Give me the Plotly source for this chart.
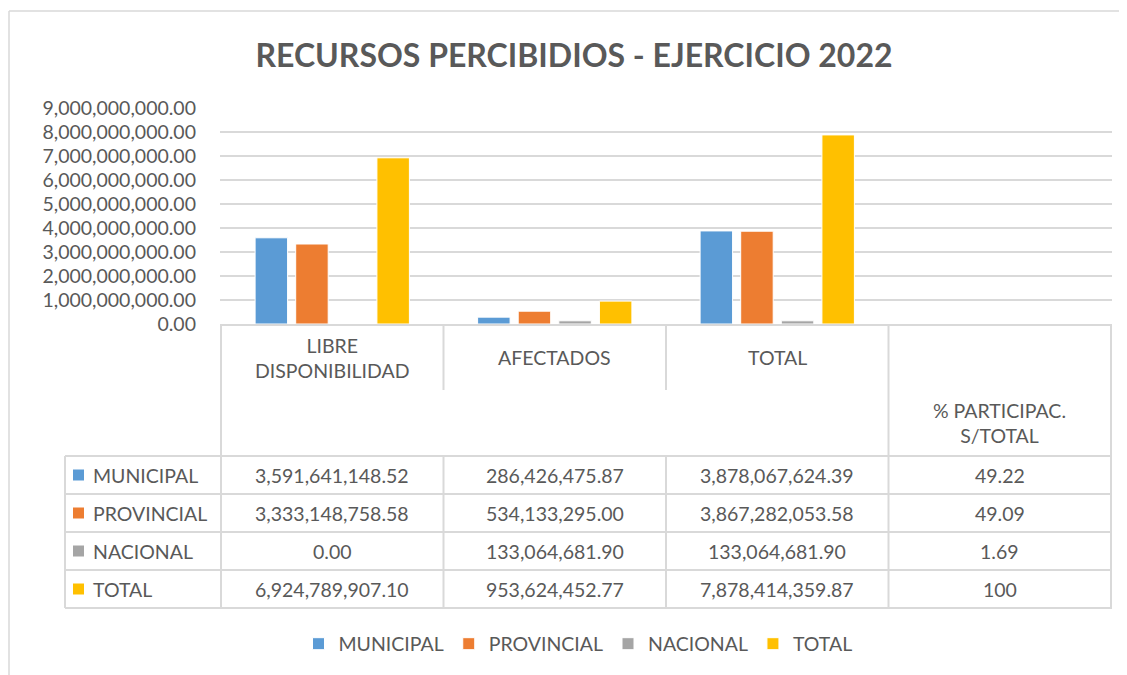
import plotly.graph_objects as go

# ---- data ----
categories = ["LIBRE DISPONIBILIDAD", "AFECTADOS", "TOTAL", "% PARTICIPAC. S/TOTAL"]
header_labels = ["LIBRE<br>DISPONIBILIDAD", "AFECTADOS", "TOTAL", "% PARTICIPAC.<br>S/TOTAL"]
series_names = ["MUNICIPAL", "PROVINCIAL", "NACIONAL", "TOTAL"]
municipal = [3591641148.52, 286426475.87, 3878067624.39, 49.22]
provincial = [3333148758.58, 534133295.00, 3867282053.58, 49.09]
nacional = [0.00, 133064681.90, 133064681.90, 1.69]
total = [6924789907.10, 953624452.77, 7878414359.87, 100]
series_values = [municipal, provincial, nacional, total]
colors = ["#5B9BD5", "#ED7D31", "#A5A5A5", "#FFC000"]
y_ticks = [i * 1e9 for i in range(10)]

OFF = 8  # page body margin
W, H = 1127 - OFF, 675 - OFF
L = 220 - OFF
T = 108 - OFF
R = W - (1112 - OFF)
B = H - (324 - OFF)
PW, PH = W - L - R, H - T - B
TXT = "#595959"
GRID = "#D9D9D9"
FONT = "Lato"
FS = 19.5


def px_x(x):  # reference page pixel -> paper
    return (x - OFF - L) / PW


def px_y(y):
    return (H - B - (y - OFF)) / PH


def fmt(v, col):
    if col == 3:
        return str(int(v)) if float(v).is_integer() else f"{v:.2f}"
    return f"{v:,.2f}"


fig = go.Figure()
for name, vals, c in zip(series_names, series_values, colors):
    fig.add_trace(go.Bar(name=name, x=categories, y=vals, marker_color=c,
                         marker_line=dict(color="white", width=1)))

shapes = []
annotations = []

# chart border (top and left visible)
border = dict(color=GRID, width=1.5)
shapes.append(dict(type="line", xref="paper", yref="paper", x0=px_x(9), x1=px_x(1130),
                   y0=px_y(11), y1=px_y(11), line=border, layer="below"))
shapes.append(dict(type="line", xref="paper", yref="paper", x0=px_x(9), x1=px_x(9),
                   y0=px_y(11), y1=px_y(680), line=border, layer="below"))

# table geometry (pixel rows)
row_lines = [456, 494, 532, 570, 608]
row_centers = [475, 513, 551, 589]
line_style = dict(color=GRID, width=2)
for y in row_lines:
    shapes.append(dict(type="line", xref="paper", yref="paper", x0=px_x(65), x1=1,
                       y0=px_y(y), y1=px_y(y), line=line_style))
shapes.append(dict(type="line", xref="paper", yref="paper", x0=px_x(65), x1=px_x(65),
                   y0=px_y(456), y1=px_y(608), line=line_style))
# vertical table lines at category boundaries
for i, b in enumerate([-0.5, 0.5, 1.5, 2.5, 3.5]):
    if i in (1, 2):
        segs = [(324, 390), (456, 608)]
    else:
        segs = [(324, 608)]
    for y0, y1 in segs:
        shapes.append(dict(type="line", xref="x", yref="paper", x0=b, x1=b,
                           y0=px_y(y0), y1=px_y(y1), line=line_style))

# headers
header_y = [358, 357, 357, 423]
for cat, lab, hy in zip(categories, header_labels, header_y):
    annotations.append(dict(x=cat, xref="x", y=px_y(hy), yref="paper", text=lab,
                            showarrow=False, font=dict(size=FS, color=TXT, family=FONT),
                            xanchor="center", yanchor="middle", align="center"))

# values
for r, (name, vals, c) in enumerate(zip(series_names, series_values, colors)):
    cy = row_centers[r]
    shapes.append(dict(type="rect", xref="paper", yref="paper", x0=px_x(73), x1=px_x(84),
                       y0=px_y(cy - 5.5), y1=px_y(cy + 5.5), fillcolor=c, line=dict(width=0)))
    annotations.append(dict(x=px_x(91), xref="paper", y=px_y(cy), yref="paper", text=name,
                            showarrow=False, font=dict(size=FS, color=TXT, family=FONT),
                            xanchor="left", yanchor="middle"))
    for ci, cat in enumerate(categories):
        annotations.append(dict(x=cat, xref="x", y=px_y(cy), yref="paper", text=fmt(vals[ci], ci),
                                showarrow=False, font=dict(size=FS, color=TXT, family=FONT),
                                xanchor="center", yanchor="middle"))

fig.update_layout(
    width=W, height=H,
    margin=dict(l=L, r=R, t=T, b=B),
    paper_bgcolor="white", plot_bgcolor="white",
    title=dict(text="<b>RECURSOS PERCIBIDIOS - EJERCICIO 2022</b>", x=(574 - OFF) / W,
               xanchor="center", y=1 - (56 - OFF) / H, yanchor="middle",
               font=dict(size=32, color=TXT, family=FONT)),
    barmode="group", bargap=0.27, bargroupgap=0.2,
    xaxis=dict(showticklabels=False, showgrid=False, showline=True, linecolor=GRID, linewidth=2,
               ticks=""),
    yaxis=dict(range=[0, 9e9], tickvals=y_ticks, tickformat=",.2f", showgrid=True, gridcolor=GRID,
               gridwidth=1.5, zeroline=False, showline=False, ticklabelstandoff=23,
               tickfont=dict(size=FS, color=TXT, family=FONT)),
    legend=dict(orientation="h", x=px_x(578), xanchor="center", y=px_y(644), yanchor="middle",
                font=dict(size=FS, color=TXT, family=FONT)),
    shapes=shapes, annotations=annotations,
)

fig.write_html("out.html")
